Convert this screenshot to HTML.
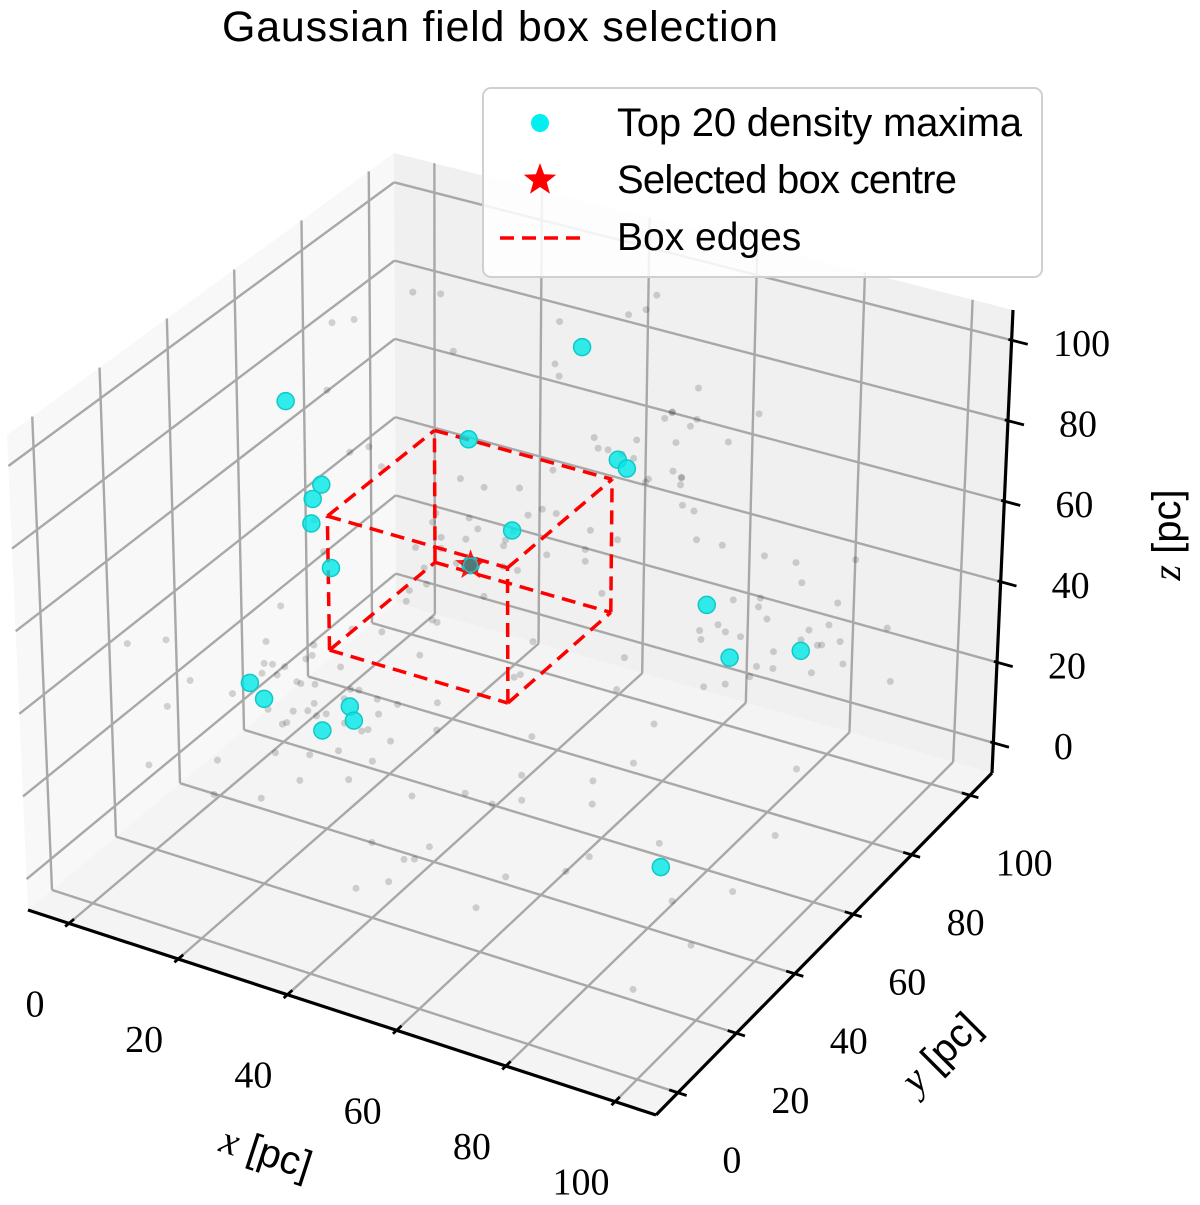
<!DOCTYPE html>
<html><head><meta charset="utf-8"><style>
html,body{margin:0;padding:0;background:#fff;}
svg{display:block;}
</style></head><body>
<svg id="chart" width="1200" height="1205" viewBox="0 0 1200 1205" xmlns="http://www.w3.org/2000/svg">
<text x="500" y="41" text-anchor="middle" font-family="Liberation Sans, sans-serif" font-size="43" textLength="556" fill="#000">Gaussian field box selection</text>
<g id="panes"></g><g id="grid"></g><g id="dots"></g><g id="boxg"></g><g id="maxima"></g><g id="axes"></g><g id="labels"></g>
<g>
<rect x="483" y="88" width="559" height="189" rx="8" fill="#fff" fill-opacity="0.85" stroke="#d0d0d0" stroke-width="2"/>
<circle cx="540" cy="123" r="9" fill="#00f0f0"/>
<text x="617" y="136" font-family="Liberation Sans, sans-serif" font-size="40" textLength="405">Top 20 density maxima</text>
<path id="legstar" fill="red"/>
<text x="617" y="193" font-family="Liberation Sans, sans-serif" font-size="40" textLength="340">Selected box centre</text>
<line x1="500" y1="238" x2="582" y2="238" stroke="red" stroke-width="3.5" stroke-dasharray="14,8"/>
<text x="617" y="250" font-family="Liberation Sans, sans-serif" font-size="39">Box edges</text>
</g>
</svg>
<script>
// data
const ticks=[0,20,40,60,80,100];
const tickLabels=["0","20","40","60","80","100"];
const maxX=[41.1,6.5,30.9,53,54.4,9.5,9.4,12,42,13.2,35.3,68.4,70.6,82.9,4.2,7.4,18.4,19.9,16.5,80.4];
const maxY=[85.1,51.9,67.1,76.4,76.9,57.3,54.8,50,61.9,53.8,60.2,79,83,84.8,43.1,42.1,50.4,49.1,44.9,43.5];
const maxZ=[90,85,75,72,70,62,60,58,60,45,50,40,25,30,20,18,15,13,12,5];
const centre=[35.3,60.2,50];
const halfSide=[16.5];
const gx=[12,15,8,18,22,10,14,20,5,25,16,11,19,23,9,13,17,21,7,26,30,34,28,38,32,41,36,29,44,33,39,27,35,42,31,55,60,52,58,63,50,57,66,61,54,72,76,70,80,74,78,68,82,75,71,85,90,88,92,95,87,45,48,40,62,65,84,93,3,98,47,24,37,53,69,81,6,59,46,88,64,15,29,43,57,71,85,99,2,36,50,18,33,12,27,40,52,67,79,91,8,
 11,14,17,9,20,24,13,16,6,22,19,12,27,31,26,35,38,33,29,40,43,37,46,49,51,56,59,62,65,68,73,77,81,86,89,94,97,4,8,12,21,25,34,39,44,48,53,58,63,67,72,76,83,87,91,96,1,10,15,28,32,42,47,55,61,66,70,79,84,93,3,7,18,23,30,36,45,50,57,64,69,74,78,82,90,95,99,2,16,27];
const gy=[40,45,50,38,48,42,55,35,47,52,44,39,58,41,46,36,53,49,43,37,60,62,58,66,55,64,70,57,68,61,72,54,65,59,63,78,82,75,85,80,74,88,79,83,76,84,88,80,90,86,82,78,92,85,81,88,84,90,86,92,80,30,20,15,25,10,60,40,70,50,95,5,12,8,18,30,22,95,100,15,35,65,75,85,90,55,45,20,10,28,33,72,48,62,26,94,68,58,40,70,88,
 43,47,51,39,44,56,34,41,60,50,38,62,55,66,48,63,71,52,59,67,73,57,69,77,80,86,72,81,91,76,88,93,79,83,87,74,90,12,25,5,18,32,8,22,14,28,3,35,19,42,27,9,16,31,45,6,75,97,85,100,92,98,68,96,88,99,64,58,70,45,20,28,36,22,15,40,33,26,12,50,18,9,24,38,30,46,55,80,65,94];
const gz=[15,18,10,22,12,25,20,14,28,8,16,30,12,19,24,11,17,21,26,9,55,60,48,52,65,58,50,45,62,70,56,42,66,53,47,72,68,75,80,62,78,70,85,66,74,30,25,35,28,22,38,32,26,40,20,30,45,25,55,35,40,5,10,3,8,12,60,90,75,15,95,50,85,20,40,65,35,5,95,70,80,2,30,45,60,88,92,10,50,100,18,40,35,68,80,22,55,15,100,60,90,
 13,21,16,27,9,14,23,32,19,11,36,24,44,51,38,57,63,41,59,46,68,54,61,73,49,77,82,66,71,58,35,44,29,27,33,48,24,20,6,42,15,28,55,9,36,62,18,48,30,75,12,58,40,22,65,8,88,70,94,82,78,90,96,68,85,73,98,52,64,3,45,12,30,60,25,7,38,82,50,15,34,72,20,44,10,55,28,86,64,5];
const lo=-7.5, hi=107.5;
// projection (trilinear through box corners)
const K={c000:[28,910],c100:[656,1115],c110:[992,773],c010:[396,603],c001:[7,435],c101:[656,625],c111:[1013,310],c011:[394,153]};
function P(x,y,z){
  const u=(x-lo)/(hi-lo),v=(y-lo)/(hi-lo),w=(z-lo)/(hi-lo);
  const r=[0,0];
  for(const [a,b,c] of [[0,0,0],[1,0,0],[1,1,0],[0,1,0],[0,0,1],[1,0,1],[1,1,1],[0,1,1]]){
    const wt=(a?u:1-u)*(b?v:1-v)*(c?w:1-w); const k=K['c'+a+b+c];
    r[0]+=wt*k[0]; r[1]+=wt*k[1];
  }
  return r;
}
const NS='http://www.w3.org/2000/svg';
function mk(tag,attrs,parent){const e=document.createElementNS(NS,tag);for(const k in attrs)e.setAttribute(k,attrs[k]);document.getElementById(parent).appendChild(e);return e;}
function poly(pts){return pts.map(p=>p.join(',')).join(' ');}
function line(p,q,attrs,parent){return mk('line',Object.assign({x1:p[0],y1:p[1],x2:q[0],y2:q[1]},attrs),parent);}
// panes
let e;
e=mk('polygon',{points:poly([P(lo,lo,lo),P(lo,hi,lo),P(lo,hi,hi),P(lo,lo,hi)]),fill:'#f8f8f8'},'panes');


e=mk('polygon',{points:poly([P(lo,hi,lo),P(hi,hi,lo),P(hi,hi,hi),P(lo,hi,hi)]),fill:'#f0f0f0'},'panes');


e=mk('polygon',{points:poly([P(lo,lo,lo),P(hi,lo,lo),P(hi,hi,lo),P(lo,hi,lo)]),fill:'#f4f4f4'},'panes');


// grid
const ga={stroke:'#a8a8a8','stroke-width':2.4};
ticks.forEach(t=>{
  e=line(P(lo,t,lo),P(lo,t,hi),ga,'grid');
  e=line(P(lo,lo,t),P(lo,hi,t),ga,'grid');
  e=line(P(t,hi,lo),P(t,hi,hi),ga,'grid');
  e=line(P(lo,hi,t),P(hi,hi,t),ga,'grid');
  e=line(P(t,lo,lo),P(t,hi,lo),ga,'grid');
  e=line(P(lo,t,lo),P(hi,t,lo),ga,'grid');
});
// gray field points
const n=Math.min(gx.length,gy.length,gz.length);
for(let i=0;i<n;i++){const p=P(gx[i],gy[i],gz[i]);
  e=mk('circle',{cx:p[0],cy:p[1],r:3.5,fill:'#000','fill-opacity':0.16},'dots');
  
  }
// box edges
const h=halfSide[0],cx=centre[0],cy=centre[1],cz=centre[2];
const xs=[cx-h,cx+h],ys=[cy-h,cy+h],zs=[cz-h,cz+h];
const ba={stroke:'red','stroke-width':3.5,'stroke-dasharray':'14,8',fill:'none'};
for(const y of ys)for(const z of zs){e=line(P(xs[0],y,z),P(xs[1],y,z),ba,'boxg');}
for(const x of xs)for(const z of zs){e=line(P(x,ys[0],z),P(x,ys[1],z),ba,'boxg');}
for(const x of xs)for(const y of ys){e=line(P(x,y,zs[0]),P(x,y,zs[1]),ba,'boxg');}
// maxima
for(let i=0;i<maxX.length;i++){const p=P(maxX[i],maxY[i],maxZ[i]);
  e=mk('circle',{cx:p[0],cy:p[1],r:8.5,fill:'#00e8e8','fill-opacity':0.8,stroke:'#10c8c8','stroke-width':1.5},'maxima');
  
  }
function starPath(x,y,R,r){let d='';for(let k=0;k<10;k++){const a=-Math.PI/2+k*Math.PI/5,rr=k%2?r:R;d+=(k?'L':'M')+(x+rr*Math.cos(a)).toFixed(1)+','+(y+rr*Math.sin(a)).toFixed(1);}return d+'Z';}
const sc=P(cx,cy,cz);
e=mk('path',{d:starPath(sc[0],sc[1],16,6.5),fill:'red','fill-opacity':0.9},'maxima');


e=mk('circle',{cx:sc[0],cy:sc[1],r:7,fill:'#3a8a8a','fill-opacity':0.85,stroke:'#30b8b8','stroke-width':1.5},'maxima');


document.getElementById('legstar').setAttribute('d',starPath(540,180,17,7));
// axes
const aa={stroke:'#000','stroke-width':3.2};
e=line(P(lo,lo,lo),P(hi,lo,lo),aa,'axes');
e=line(P(hi,lo,lo),P(hi,hi,lo),aa,'axes');
e=line(P(hi,hi,lo),P(hi,hi,hi),aa,'axes');
const ta={stroke:'#000','stroke-width':2.8};
const tf={'font-family':'Liberation Serif, serif','font-size':38,'text-anchor':'middle',fill:'#000'};
ticks.forEach((t,i)=>{
  e=line(P(t,lo-1.2,lo),P(t,lo+1.6,lo),ta,'axes');
  let p=P(t,lo,lo);
  e=mk('text',Object.assign({x:p[0]-34,y:p[1]+93},tf),'labels');e.textContent=tickLabels[i];
  
  e=line(P(hi-1.6,t,lo),P(hi+1.6,t,lo),ta,'axes');
  p=P(hi,t,lo);
  e=mk('text',Object.assign({x:p[0]+54,y:p[1]+80},tf),'labels');e.textContent=tickLabels[i];
  
  e=line(P(hi-0.6,hi,t),P(hi+3,hi,t),ta,'axes');
  p=P(hi,hi,t);
  e=mk('text',Object.assign({x:p[0]+70,y:p[1]+16},tf),'labels');e.textContent=tickLabels[i];
  
});
function axTitle(name,x,y,rot,v){
  const t=mk('text',{x:0,y:0,transform:`translate(${x},${y}) rotate(${rot})`,'text-anchor':'middle','font-size':40,fill:'#000'},'labels');
  
  
  const a=document.createElementNS(NS,'tspan');a.setAttribute('font-family','Liberation Serif, serif');a.setAttribute('font-style','italic');a.textContent=v;t.appendChild(a);
  const b=document.createElementNS(NS,'tspan');b.setAttribute('font-family','Liberation Sans, sans-serif');b.textContent=' [pc]';t.appendChild(b);
}
axTitle('x-axis-title',262,1165,18,'x');
axTitle('y-axis-title',950,1062,-45,'y');
axTitle('z-axis-title',1180,535,-90,'z');
</script>
</body></html>
